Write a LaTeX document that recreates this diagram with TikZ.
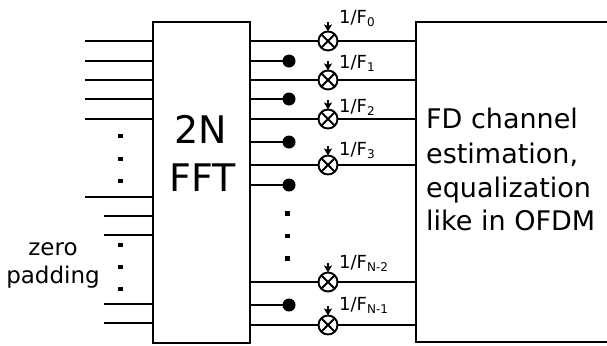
\documentclass[tikz,border=0pt]{standalone}
\usepackage{fontspec}
\setmainfont{DejaVu Sans}
\usetikzlibrary{arrows.meta}
\newcommand{\fsz}[1]{\fontsize{#1bp}{#1bp}\selectfont}
\tikzset{
  x=1bp,y=-1bp,
  blockbox/.style={draw,line width=2bp,inner sep=0pt,outer sep=0pt},
  wire/.style={line width=1.8bp},
  stubwire/.style={line width=1.6bp},
  mixer/.style={circle,draw,line width=1.9bp,minimum size=19bp,inner sep=0pt,outer sep=0pt,
    path picture={\draw[line width=1.9bp] (path picture bounding box.north west)--(path picture bounding box.south east)
      (path picture bounding box.north east)--(path picture bounding box.south west);}},
  tapdot/.style={circle,fill=black,minimum size=13bp,inner sep=0pt,outer sep=0pt},
  dotmark/.style={fill=black,minimum width=5bp,minimum height=4.5bp,inner sep=0pt,outer sep=0pt},
  gainlabel/.style={anchor=base west,inner sep=0pt,font=\fsz{18}},
  ctrl/.style={line width=1.5bp,-{Stealth[length=7bp,width=8bp,inset=1.5bp]}},
}
\begin{document}
\begin{tikzpicture}
\useasboundingbox (0,0) rectangle (607,345);
\node[blockbox,minimum width=97bp,minimum height=321bp,anchor=north west] (fft) at (153,22) {};
\node[anchor=base,inner sep=0pt,font=\fsz{38}] (fft1) at (201,143) {2N};
\node[anchor=base,inner sep=0pt,font=\fsz{38}] (fft2) at (203,191) {FFT};
% channel block, open on its right side
\coordinate (chTL) at (416,22);
\coordinate (chBL) at (416,342);
\coordinate (chTR) at (607,22);
\coordinate (chBR) at (607,342);
\draw[line width=2bp] (chTR)--(chTL)--(chBL)--(chBR);
\node[anchor=base west,inner sep=0pt,font=\fsz{27}] (t1) at (426,128) {FD channel};
\node[anchor=base west,inner sep=0pt,font=\fsz{27}] (t2) at (426,163) {estimation,};
\node[anchor=base west,inner sep=0pt,font=\fsz{27}] (t3) at (426,197) {equalization};
\node[anchor=base west,inner sep=0pt,font=\fsz{27}] (t4) at (426,230) {like in OFDM};
% inputs
\foreach \n/\y in {a/41,b/61,c/80,d/99,e/119,f/197}{
  \coordinate (in\n) at (85,\y);
  \draw[wire] (in\n) -- (in\n -| fft.west);
}
\foreach \n/\y in {g/216,h/235,i/304,j/323}{
  \coordinate (in\n) at (104,\y);
  \draw[wire] (in\n) -- (in\n -| fft.west);
}
\foreach \n/\x/\y in {a/120.5/136,b/120.5/159,c/120.5/181,d/120.5/245,e/120.5/267,f/120.5/289,g/287.5/213.5,h/287.5/236,i/287.5/258.5}{
  \node[dotmark] (dot\n) at (\x,\y) {};
}
\node[anchor=base,inner sep=0pt,font=\fsz{23}] (z1) at (53,255) {zero};
\node[anchor=base,inner sep=0pt,font=\fsz{23}] (z2) at (53,283) {padding};
% outputs with multipliers
\foreach \n/\y/\ly/\lab in {a/41/23/0,b/80/68/1,c/119/112/2,d/165/155/3,e/282/268/{N-2},f/325/310/{N-1}}{
  \node[mixer] (m\n) at (328,\y) {};
  \draw[wire] (m\n -| fft.east) -- (m\n.west);
  \draw[wire] (m\n.east) -- (m\n -| chTL);
  \coordinate (c\n) at (328,\y-19);
  \draw[ctrl] (c\n) -- (m\n.north);
  \node[gainlabel] (l\n) at (339,\ly) {1/F\raisebox{-3bp}{\fsz{12}\lab}};
}
% tapped outputs
\foreach \n/\y in {a/61,b/99,c/142,d/185,e/305}{
  \node[tapdot] (p\n) at (289,\y) {};
  \draw[stubwire] (p\n -| fft.east) -- (p\n.west);
}
\end{tikzpicture}
\end{document}
